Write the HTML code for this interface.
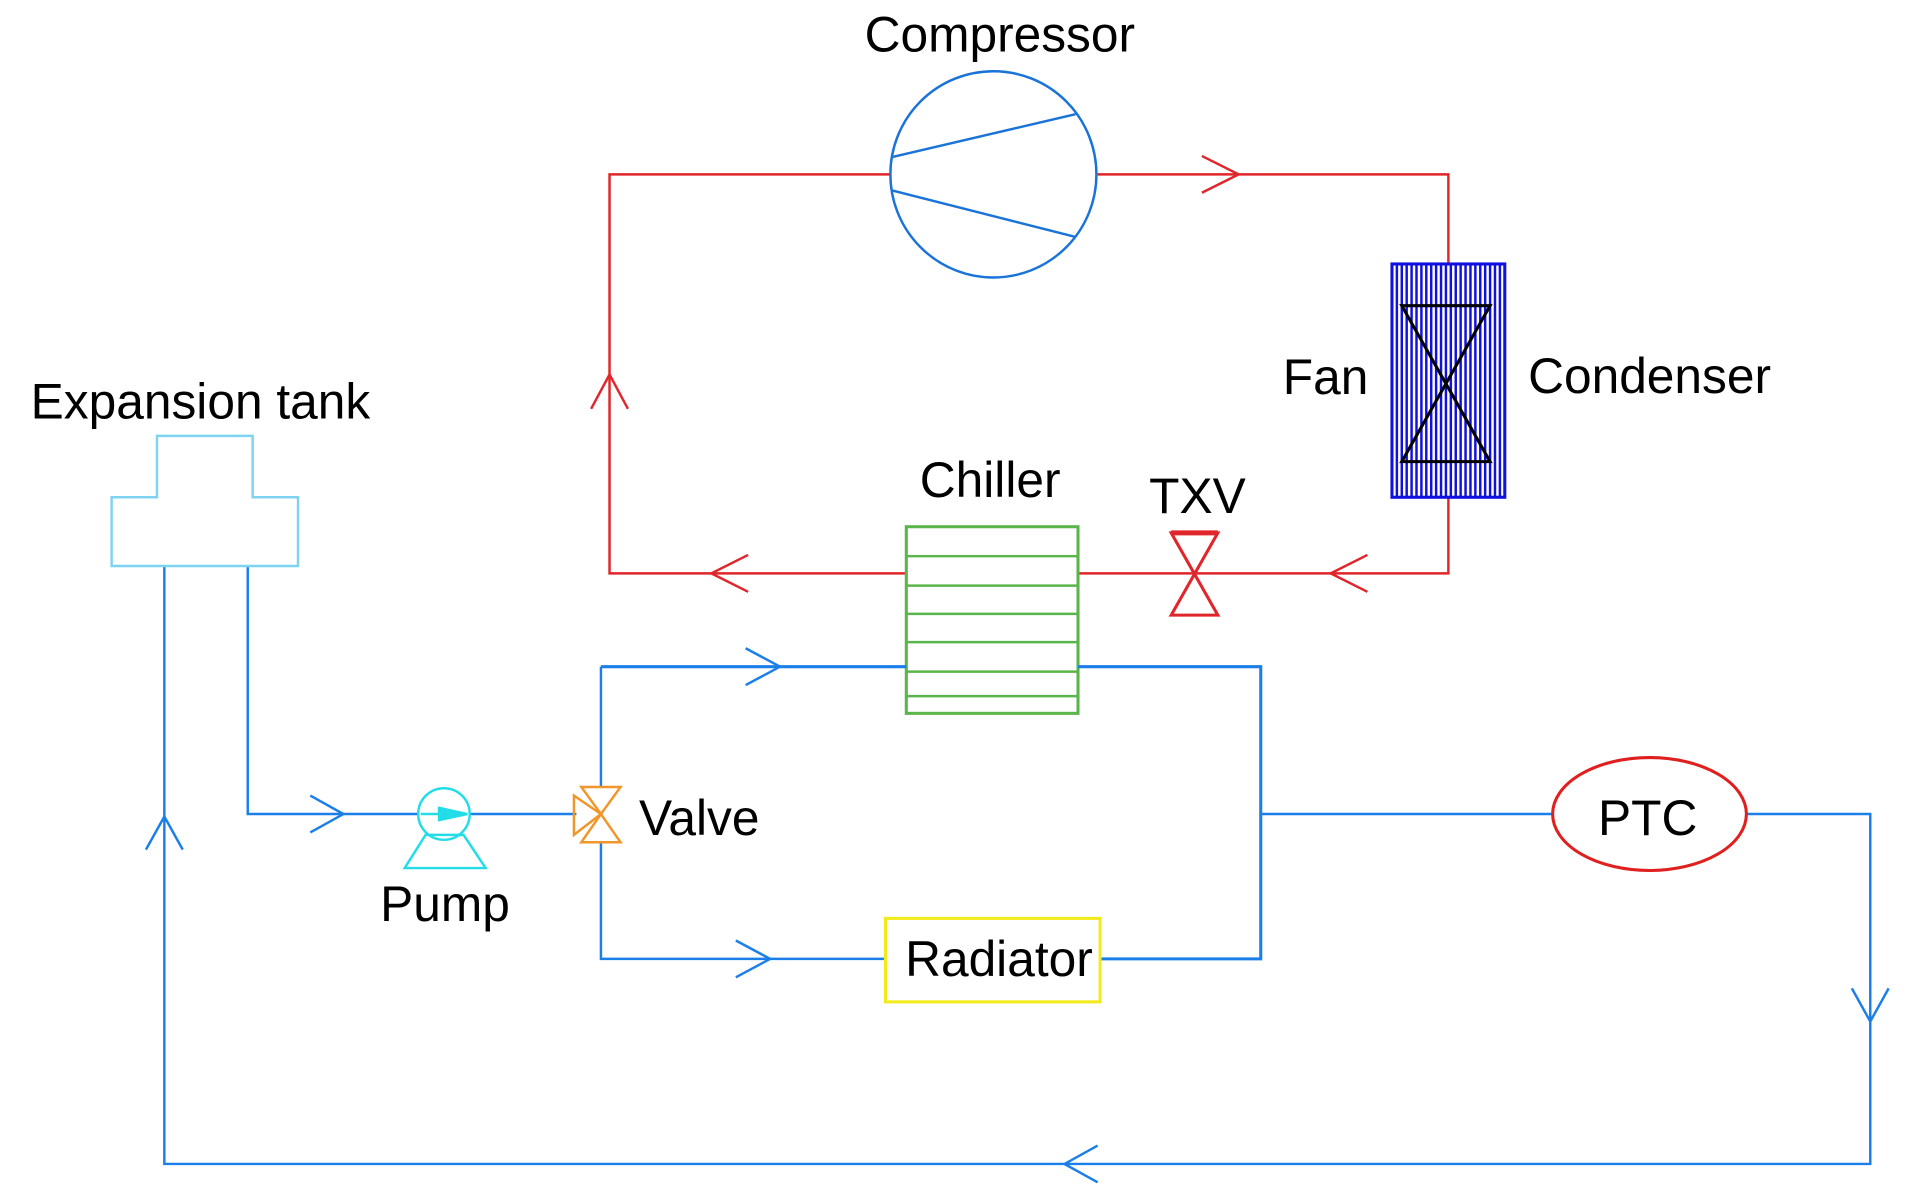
<!DOCTYPE html>
<html><head><style>html,body{margin:0;padding:0;background:#fff;}svg{display:block;}</style></head>
<body>
<svg width="1923" height="1202" viewBox="0 0 1568 979" preserveAspectRatio="none" xmlns="http://www.w3.org/2000/svg" font-family="Liberation Sans, Arial, sans-serif" font-size="40.5" fill="none">
<!-- red refrigerant loop -->
<g stroke="#e0262b" stroke-width="2">
<polyline points="727,142 497,142 497,467 739,467"/>
<polyline points="895,142 1181,142 1181,215"/>
<polyline points="1181,405 1181,467 879,467"/>
<polyline points="980,127 1010,142 980,157"/>
<polyline points="1115,452 1085,467 1115,482"/>
<polyline points="610,452 580,467 610,482"/>
<polyline points="482,333 497,305 512,333"/>
<polygon points="955,434 993,434 955,501 993,501" stroke-width="2.5"/>
<line x1="955" y1="434" x2="993" y2="434" stroke-width="4"/>
</g>
<!-- compressor -->
<g stroke="#1a73d9" stroke-width="2">
<circle cx="810" cy="142" r="84"/>
<line x1="727" y1="128" x2="877" y2="93"/>
<line x1="727" y1="155" x2="877" y2="193"/>
</g>
<!-- condenser -->
<g stroke="#1010e0" stroke-width="2">
<rect x="1135" y="215" width="92" height="190" stroke-width="2.5"/>
<path d="M1139,215V405M1143,215V405M1147,215V405M1151,215V405M1155,215V405M1159,215V405M1163,215V405M1167,215V405M1171,215V405M1175,215V405M1179,215V405M1183,215V405M1187,215V405M1191,215V405M1195,215V405M1199,215V405M1203,215V405M1207,215V405M1211,215V405M1215,215V405M1219,215V405M1223,215V405"/>
</g>
<polygon points="1143,249 1215,249 1143,376 1215,376" stroke="#000" stroke-width="2.5"/>
<!-- chiller -->
<g stroke="#5ab54b" stroke-width="2.5">
<rect x="739" y="429" width="140" height="152"/>
<path d="M739,453H879M739,477H879M739,500H879M739,523H879M739,547H879M739,567H879" stroke-width="2"/>
</g>
<!-- blue coolant -->
<g stroke="#1a7fe8" stroke-width="2">
<line x1="490" y1="543" x2="739" y2="543" stroke-width="2.5"/>
<polyline points="879,543 1028,543 1028,781 897,781" stroke-width="2.5"/>
<line x1="1028" y1="663" x2="1266" y2="663"/>
<polyline points="1424,663 1525,663 1525,948 134,948 134,461"/>
<polyline points="202,461 202,663 341,663"/>
<line x1="383" y1="663" x2="470" y2="663"/>
<line x1="490" y1="543" x2="490" y2="641"/>
<polyline points="490,686 490,781 722,781"/>
<polyline points="608,528 636,543 608,558"/>
<polyline points="253,648 280,663 253,678"/>
<polyline points="600,766 628,781 600,796"/>
<polyline points="1510,805 1525,832 1540,805"/>
<polyline points="895,933 868,948 895,963"/>
<polyline points="119,692 134,665 149,692"/>
</g>
<!-- expansion tank -->
<polygon points="91,461 91,405 128,405 128,355 206,355 206,405 243,405 243,461" stroke="#7dd3f0" stroke-width="2"/>
<!-- pump -->
<g stroke="#22dde8" stroke-width="2">
<circle cx="362" cy="663" r="21"/>
<line x1="343" y1="663" x2="370" y2="663"/>
<polygon points="358,658 381,663 358,668" fill="#22dde8"/>
<polygon points="347,680 330,707 396,707 378,680"/>
</g>
<!-- valve -->
<g stroke="#f0962a" stroke-width="2">
<polygon points="474,641 506,641 490,663"/>
<polygon points="474,686 506,686 490,663"/>
<polygon points="468,648 468,680 490,663"/>
</g>
<!-- radiator & PTC -->
<rect x="722" y="748" width="175" height="68" stroke="#f2ea1a" stroke-width="2.5"/>
<ellipse cx="1345" cy="663" rx="79" ry="46" stroke="#e01f1f" stroke-width="2.5"/>
<!-- text -->
<g fill="#000" stroke="none">
<text x="705" y="42">Compressor</text>
<text x="1046" y="321">Fan</text>
<text x="1246" y="320">Condenser</text>
<text x="25" y="341">Expansion tank</text>
<text x="750" y="405">Chiller</text>
<text x="937" y="418">TXV</text>
<text x="521" y="680">Valve</text>
<text x="310" y="750">Pump</text>
<text x="738" y="795">Radiator</text>
<text x="1303" y="680">PTC</text>
</g>
</svg>
</body></html>
